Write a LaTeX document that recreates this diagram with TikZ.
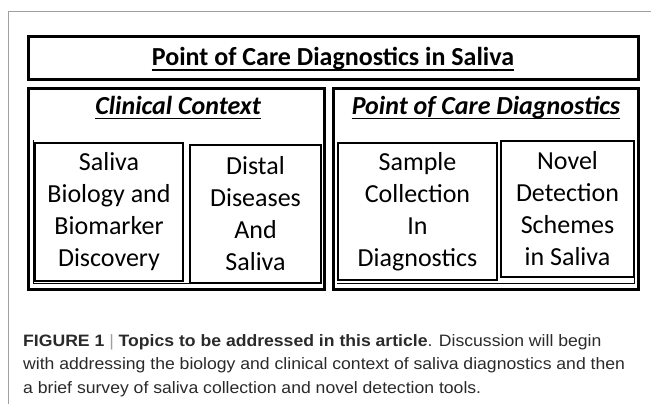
\documentclass[tikz,border=0pt]{standalone}
\usepackage{fontspec}
\setmainfont{Carlito}
\newfontfamily\capfont[FakeStretch=1.067]{Liberation Sans}
\definecolor{captxt}{HTML}{2A2A2A}
\definecolor{framegray}{HTML}{A0A0A0}
\begin{document}
\begin{tikzpicture}[x=1pt,y=-1pt,
  panelbox/.style={draw=black, line width=3pt, inner sep=0pt},
  innerbox/.style={draw=black, line width=2.4pt, align=center, inner sep=0pt,
    font=\fontsize{26}{32}\selectfont},
  headtext/.style={inner sep=0pt, anchor=base, font=\fontsize{26}{32}\selectfont\bfseries},
  ul/.style={line width=1.6pt},
  thinline/.style={line width=0.9pt},
  captext/.style={inner sep=0pt, anchor=base west, text=captxt,
    font=\capfont\fontsize{16.5}{20}\selectfont}]
\useasboundingbox (0,0) rectangle (651,404);
% outer gray frame
\draw[framegray, line width=1pt] (8.5,404) -- (8.5,11.5) -- (651,11.5);
% title
\node[panelbox, minimum width=610, minimum height=43] (titlebox) at (333,58.5) {};
\node[headtext] (tt) at (333,65.5) {Point of Care Diagnostics in Saliva};
\draw[ul] ([yshift=-4.5pt]tt.base west) -- ([yshift=-4.5pt]tt.base east);
% panels
\node[panelbox, minimum width=296, minimum height=200] (lp) at (176,189) {};
\node[panelbox, minimum width=305, minimum height=200] (rp) at (485.5,189) {};
\draw[thinline] (33.5,140) |- (320,283.5);
\draw[thinline] (337,283.5) -| (634.5,140);
\node[headtext, font=\fontsize{26}{32}\selectfont\bfseries\itshape] (cc) at (178,114) {Clinical Context};
\draw[ul] ([yshift=-4.5pt]cc.base west) -- ([yshift=-4.5pt]cc.base east);
\node[headtext, font=\fontsize{26}{32}\selectfont\bfseries\itshape] (pc) at (486,114) {Point of Care Diagnostics};
\draw[ul] ([yshift=-4.5pt]pc.base west) -- ([yshift=-4.5pt]pc.base east);
% inner boxes
\node[innerbox, minimum width=148, minimum height=138] (b1) at (109,212) {Saliva\\Biology and\\Biomarker\\Discovery};
\node[innerbox, minimum width=131, minimum height=138] (b2) at (255.5,214) {Distal\\Diseases\\And\\Saliva};
\node[innerbox, minimum width=159, minimum height=137] (b3) at (417.5,211.5) {Sample\\Collection\\In\\Diagnostics};
\node[innerbox, minimum width=133, minimum height=136] (b4) at (567.5,209) {Novel\\Detection\\Schemes\\in Saliva};
% caption
\node[captext] (c1) at (23,346) {\textbf{FIGURE 1} {\color{framegray}|} \textbf{Topics to be addressed in this article}. Discussion will begin};
\node[captext] (c2) at (23,369.5) {with addressing the biology and clinical context of saliva diagnostics and then};
\node[captext] (c3) at (23,393) {a brief survey of saliva collection and novel detection tools.};
\end{tikzpicture}
\end{document}
